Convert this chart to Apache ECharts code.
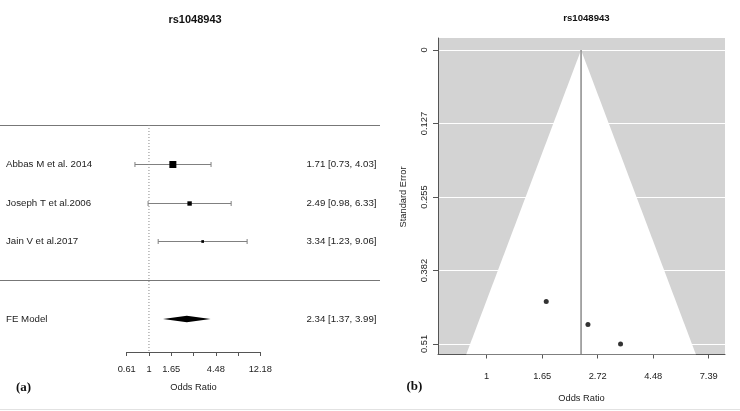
<!DOCTYPE html>
<html>
<head>
<meta charset="utf-8">
<script src="https://cdn.jsdelivr.net/npm/echarts@6/dist/echarts.min.js"></script>
<style>html,body{margin:0;padding:0;background:#fff}#c{width:740px;height:411px}</style>
</head>
<body>
<div id="c"></div>
<script>
// ---- data ----
const title = 'rs1048943';
const studies = ['Abbas M et al. 2014', 'Joseph T et al.2006', 'Jain V et al.2017'];
const orVals = [1.71, 2.49, 3.34];
const ciLo = [0.73, 0.98, 1.23];
const ciHi = [4.03, 6.33, 9.06];
const weights = [38.9, 32.6, 28.5];
const stdErr = [0.436, 0.476, 0.510];
const feLabel = 'FE Model';
const feEst = [2.34];
const feLo = [1.37];
const feHi = [3.99];
const forestTicks = ['0.61', '1', '1.65', '', '4.48', '', '12.18'];
const funnelXTicks = ['1', '1.65', '2.72', '4.48', '7.39'];
const funnelYTicks = ['0', '0.127', '0.255', '0.382', '0.51'];
const seAxisMax = 0.51;

const FONT = "'Liberation Sans', Arial, sans-serif";
const ln = Math.log;
const k = studies.length;

const wMin = Math.min(...weights), wMax = Math.max(...weights);
const studyData = studies.map((s, i) => [
  ln(orVals[i]), ln(ciLo[i]), ln(ciHi[i]), k - i,
  2.7 + (weights[i] - wMin) / (wMax - wMin) * 4.3, i
]);
const fmt = v => v.toFixed(2);

const chart = echarts.init(document.getElementById('c'), null, {renderer: 'canvas'});

const seBottom = 0.528, seTop = -0.0208;
const fe = ln(feEst[0]);
const TXT = '9.7px ' + FONT;

chart.setOption({
  animation: false,
  backgroundColor: '#fff',
  title: [
    {text: title, left: 190, top: 9, textAlign: 'center',
     textStyle: {fontFamily: FONT, fontSize: 11, fontWeight: 'bold', color: '#111'}},
    {text: title, left: 581.5, top: 8, textAlign: 'center',
     textStyle: {fontFamily: FONT, fontSize: 9.6, fontWeight: 'bold', color: '#111'}}
  ],
  grid: [
    {left: 126.7, top: 125, width: 133.6, height: 227},
    {left: 438, top: 38, width: 287, height: 316.5, show: true, backgroundColor: '#d3d3d3', borderWidth: 0},
    {left: 438, top: 50, width: 287, height: 294},
    {left: 486.7, top: 38, width: 222, height: 316.5}
  ],
  xAxis: [
    {gridIndex: 0, type: 'value', min: -0.5, max: 2.5, interval: 0.5,
     axisLine: {show: true, onZero: false, lineStyle: {color: '#555', width: 1}},
     axisTick: {show: true, length: 4, lineStyle: {color: '#555'}},
     splitLine: {show: false},
     axisLabel: {margin: 13, fontFamily: FONT, fontSize: 9.3, color: '#222',
       formatter: v => forestTicks[Math.round((v + 0.5) / 0.5)] || ''},
     name: 'Odds Ratio', nameLocation: 'middle', nameGap: 31,
     nameTextStyle: {fontFamily: FONT, fontSize: 9.3, color: '#222'}},
    {gridIndex: 1, type: 'value', min: -0.4387, max: 2.147,
     axisLine: {show: true, onZero: false, lineStyle: {color: '#555', width: 1}},
     axisTick: {show: false}, axisLabel: {show: false}, splitLine: {show: false},
     name: 'Odds Ratio', nameLocation: 'middle', nameGap: 39,
     nameTextStyle: {fontFamily: FONT, fontSize: 9.3, color: '#222'}},
    {gridIndex: 2, type: 'value', min: 0, max: 1, show: false},
    {gridIndex: 3, type: 'value', min: 0, max: 2, interval: 0.5,
     axisLine: {show: false, onZero: false},
     axisTick: {show: true, length: 4, lineStyle: {color: '#555'}},
     splitLine: {show: false},
     axisLabel: {margin: 17, fontFamily: FONT, fontSize: 9.3, color: '#222',
       formatter: v => funnelXTicks[Math.round(v / 0.5)] || ''}}
  ],
  yAxis: [
    {gridIndex: 0, type: 'value', min: -1.85, max: 4, show: false},
    {gridIndex: 1, type: 'value', inverse: true, min: seTop, max: seBottom,
     axisLine: {show: true, onZero: false, lineStyle: {color: '#555', width: 1}},
     axisTick: {show: false}, axisLabel: {show: false}, splitLine: {show: false}},
    {gridIndex: 2, type: 'value', inverse: true, min: 0, max: seAxisMax, interval: seAxisMax / 4,
     axisLine: {show: false, onZero: false},
     axisTick: {show: true, length: 5, lineStyle: {color: '#555'}},
     splitLine: {show: true, lineStyle: {color: '#ffffff', width: 1}},
     axisLabel: {margin: 9, rotate: 90, fontFamily: FONT, fontSize: 9.3, color: '#222',
       formatter: v => funnelYTicks[Math.round(v / (seAxisMax / 4))] || ''},
     name: 'Standard Error', nameLocation: 'middle', nameGap: 30, nameRotate: 90,
     nameTextStyle: {fontFamily: FONT, fontSize: 9.3, color: '#222'}},
    {gridIndex: 3, type: 'value', min: 0, max: 1, show: false}
  ],
  graphic: [
    {type: 'text', left: 16, top: 381, style: {text: '(a)', font: "bold 13px 'Liberation Serif', serif", fill: '#111'}},
    {type: 'text', left: 406.5, top: 380.5, style: {text: '(b)', font: "bold 13px 'Liberation Serif', serif", fill: '#111'}},
    {type: 'line', shape: {x1: 0, y1: 409.5, x2: 740, y2: 409.5}, style: {stroke: '#e2e2e2', lineWidth: 1}}
  ],
  series: [
    // separator lines of the forest plot
    {type: 'custom', xAxisIndex: 0, yAxisIndex: 0, clip: false, silent: true,
     data: [[0, k + 1], [0, 0]],
     renderItem: (params, api) => {
       const y = Math.round(api.coord([0, api.value(1)])[1]) + 0.5;
       return {type: 'line', shape: {x1: 0, y1: y, x2: 380, y2: y}, style: {stroke: '#777', lineWidth: 1}};
     }},
    // reference line at OR = 1
    {type: 'line', xAxisIndex: 0, yAxisIndex: 0, silent: true, symbol: 'none',
     data: [[0, k + 1], [0, -1.85]],
     lineStyle: {color: '#888', width: 1, type: [1, 2]}},
    // studies
    {type: 'custom', xAxisIndex: 0, yAxisIndex: 0, clip: false, silent: true,
     data: studyData,
     renderItem: (params, api) => {
       const i = api.value(5);
       const row = api.value(3);
       const pE = api.coord([api.value(0), row]);
       const pL = api.coord([api.value(1), row]);
       const pH = api.coord([api.value(2), row]);
       const y = Math.round(pE[1]) + 0.5;
       const s = api.value(4);
       const col = '#808080';
       return {type: 'group', children: [
         {type: 'line', shape: {x1: pL[0], y1: y, x2: pH[0], y2: y}, style: {stroke: col, lineWidth: 1}},
         {type: 'line', shape: {x1: pL[0], y1: y - 2.5, x2: pL[0], y2: y + 2.5}, style: {stroke: col, lineWidth: 1}},
         {type: 'line', shape: {x1: pH[0], y1: y - 2.5, x2: pH[0], y2: y + 2.5}, style: {stroke: col, lineWidth: 1}},
         {type: 'rect', shape: {x: pE[0] - s / 2, y: y - s / 2, width: s, height: s}, style: {fill: '#000'}},
         {type: 'text', style: {text: studies[i], x: 6, y: y, textAlign: 'left', textVerticalAlign: 'middle', font: TXT, fill: '#222'}},
         {type: 'text', style: {text: fmt(orVals[i]) + ' [' + fmt(ciLo[i]) + ', ' + fmt(ciHi[i]) + ']', x: 376.5, y: y, textAlign: 'right', textVerticalAlign: 'middle', font: TXT, fill: '#222'}}
       ]};
     }},
    // FE model diamond
    {type: 'custom', xAxisIndex: 0, yAxisIndex: 0, clip: false, silent: true,
     data: [[ln(feEst[0]), ln(feLo[0]), ln(feHi[0]), -1]],
     renderItem: (params, api) => {
       const row = api.value(3);
       const pE = api.coord([api.value(0), row]);
       const pL = api.coord([api.value(1), row]);
       const pH = api.coord([api.value(2), row]);
       const y = pE[1];
       return {type: 'group', children: [
         {type: 'polygon', shape: {points: [[pL[0], y], [pE[0], y - 3.2], [pH[0], y], [pE[0], y + 3.2]]}, style: {fill: '#000'}},
         {type: 'text', style: {text: feLabel, x: 6, y: y, textAlign: 'left', textVerticalAlign: 'middle', font: TXT, fill: '#222'}},
         {type: 'text', style: {text: fmt(feEst[0]) + ' [' + fmt(feLo[0]) + ', ' + fmt(feHi[0]) + ']', x: 376.5, y: y, textAlign: 'right', textVerticalAlign: 'middle', font: TXT, fill: '#222'}}
       ]};
     }},
    // funnel region
    {type: 'custom', xAxisIndex: 1, yAxisIndex: 1, clip: true, silent: true,
     data: [[fe, seBottom]],
     renderItem: (params, api) => {
       const c = api.value(0), sMax = api.value(1);
       const apex = api.coord([c, 0]);
       const bl = api.coord([c - 1.96 * sMax, sMax]);
       const br = api.coord([c + 1.96 * sMax, sMax]);
       return {type: 'group', children: [
         {type: 'polygon', shape: {points: [apex, bl, br]}, style: {fill: '#ffffff'}},
         {type: 'line', shape: {x1: apex[0], y1: apex[1], x2: apex[0], y2: bl[1]}, style: {stroke: '#7a7a7a', lineWidth: 1.3}}
       ]};
     }},
    // studies in funnel
    {type: 'scatter', xAxisIndex: 1, yAxisIndex: 1, silent: true, symbol: 'circle', symbolSize: 5,
     itemStyle: {color: '#000'},
     data: orVals.map((v, i) => [ln(v), stdErr[i]])}
  ]
});
</script>
</body>
</html>
